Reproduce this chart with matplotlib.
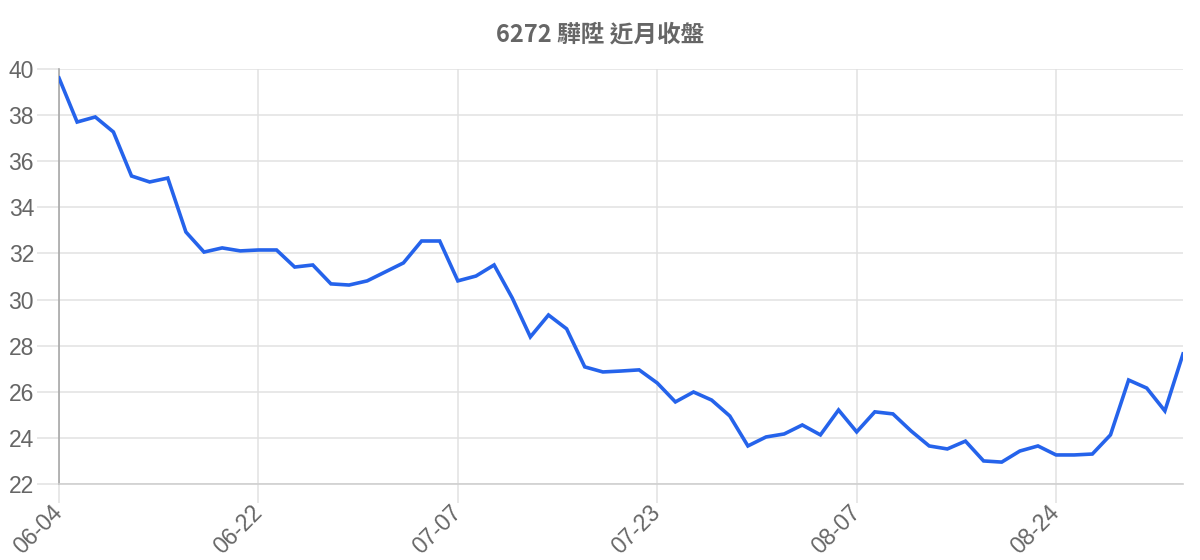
import matplotlib
matplotlib.use("Agg")
import matplotlib.pyplot as plt
import numpy as np

# closing prices (one value per trading day)
closes = [39.61, 37.70, 37.92, 37.27, 35.36, 35.10, 35.27, 32.93, 32.06, 32.24,
          32.11, 32.15, 32.15, 31.41, 31.50, 30.68, 30.63, 30.81, 31.20, 31.59,
          32.54, 32.54, 30.81, 31.02, 31.50, 30.07, 28.38, 29.33, 28.73, 27.08,
          26.86, 26.90, 26.95, 26.38, 25.56, 25.99, 25.64, 24.95, 23.65, 24.04,
          24.17, 24.56, 24.13, 25.21, 24.26, 25.13, 25.04, 24.30, 23.65, 23.52,
          23.86, 23.00, 22.95, 23.43, 23.65, 23.26, 23.26, 23.30, 24.13, 26.51,
          26.16, 25.17, 27.64]
tick_labels = ["06-04", "06-22", "07-07", "07-23", "08-07", "08-24"]
label_step = 11
y_ticks = [22, 24, 26, 28, 30, 32, 34, 36, 38, 40]
title = "6272 驊陞 近月收盤"

plt.rcParams['font.family'] = ['Liberation Sans', 'DejaVu Sans']

fig = plt.figure(figsize=(12, 5.6), dpi=100)
ax = fig.add_axes([59 / 1200, 1 - 484 / 560, (1183 - 59) / 1200, (484 - 69) / 560])

x = np.arange(len(closes))
ax.plot(x, closes, color="#2563eb", linewidth=2.6, solid_joinstyle="miter", zorder=3)

ax.set_xlim(0, len(closes) - 1)
ax.set_ylim(22, 40)
ax.set_yticks(y_ticks)
ax.set_xticks(x[::label_step])
ax.set_xticklabels(tick_labels, rotation=45, ha="right", va="center", rotation_mode="anchor")

grid_col = "#e1e1e1"
ax.grid(True, color=grid_col, linewidth=1.1, zorder=0)
ax.tick_params(axis="both", width=1.1, color=grid_col,
               labelsize=16.5, labelcolor="#666666")
ax.tick_params(axis="x", length=14, pad=4)
ax.tick_params(axis="y", length=16, pad=2)

for side in ["top", "right"]:
    ax.spines[side].set_visible(False)
ax.spines["left"].set_color("#a8a8a8")
ax.spines["bottom"].set_color("#cfcfcf")
ax.spines["left"].set_linewidth(1.2)
ax.spines["bottom"].set_linewidth(1.2)

fig.text(0.5, 1 - 35 / 560, title, ha="center", va="center", fontsize=17,
         fontweight="bold", color="#666666",
         family=["Noto Sans CJK TC", "DejaVu Sans"])

fig.savefig("out.png", dpi=100, facecolor="white")
